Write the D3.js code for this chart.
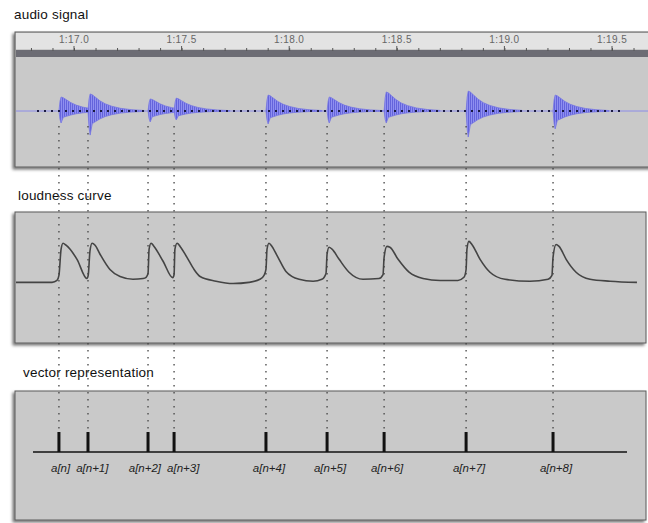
<!DOCTYPE html>
<html>
<head>
<meta charset="utf-8">
<script src="https://cdn.jsdelivr.net/npm/d3@7"></script>
<style>
  body { margin: 0; background: #fff; }
  text { font-family: "Liberation Sans", Arial, sans-serif; }
</style>
</head>
<body>
<div id="chart"></div>
<script>
// onset times in seconds (1:17.0 = 77 s)
const onsets = [76.930, 77.065, 77.344, 77.465, 77.892, 78.176, 78.441, 78.822, 79.226];
const onsetLabels = ["a[n]", "a[n+1]", "a[n+2]", "a[n+3]", "a[n+4]", "a[n+5]", "a[n+6]", "a[n+7]", "a[n+8]"];

// peak amplitude of each burst above / below the zero line (full scale = 1)
const burstUp = [0.50, 0.61, 0.43, 0.46, 0.57, 0.50, 0.68, 0.71, 0.57];
const burstDown = [0.43, 0.86, 0.39, 0.32, 0.46, 0.43, 0.43, 0.93, 0.64];

// decay envelope of a burst: time after onset (s) and relative level
const envOffsets = [0, 0.005, 0.01, 0.02, 0.035, 0.055, 0.08, 0.11, 0.15, 0.2, 0.26];
const envLevels = [0, 0.7, 1, 0.95, 0.8, 0.6, 0.42, 0.28, 0.16, 0.08, 0.03];

// ruler
const rulerMajor = [77, 77.5, 78, 78.5, 79, 79.5];
const rulerLabels = ["1:17.0", "1:17.5", "1:18.0", "1:18.5", "1:19.0", "1:19.5"];

// loudness curve: time (s) and level (peak = 1)
const loudTime = [76.726, 76.898, 76.921, 76.930, 76.940, 76.949, 76.963, 77.014, 77.060, 77.066,
  77.074, 77.084, 77.098, 77.121, 77.167, 77.214, 77.274, 77.321, 77.335, 77.344,
  77.349, 77.358, 77.372, 77.414, 77.459, 77.465, 77.469, 77.479, 77.493, 77.525,
  77.558, 77.586, 77.660, 77.739, 77.813, 77.864, 77.883, 77.892, 77.897, 77.906,
  77.920, 77.948, 77.985, 78.046, 78.111, 78.152, 78.171, 78.176, 78.185, 78.199,
  78.232, 78.278, 78.343, 78.417, 78.436, 78.441, 78.454, 78.468, 78.506, 78.557,
  78.622, 78.701, 78.784, 78.812, 78.822, 78.826, 78.835, 78.849, 78.887, 78.933,
  79.003, 79.119, 79.203, 79.221, 79.226, 79.240, 79.254, 79.287, 79.333, 79.398,
  79.491, 79.616];
const loudLevel = [0, 0, 0.05, 0.18, 0.85, 1.0, 0.95, 0.59, 0.10, 0.18,
  0.79, 1.0, 0.95, 0.72, 0.33, 0.15, 0.08, 0.10, 0.13, 0.23,
  0.85, 1.0, 0.92, 0.54, 0.12, 0.2, 0.85, 1.0, 0.92, 0.64,
  0.33, 0.15, 0.03, -0.03, 0, 0.08, 0.18, 0.33, 0.85, 1.0,
  0.92, 0.64, 0.28, 0.08, 0.03, 0.08, 0.23, 0.72, 0.9, 0.85,
  0.59, 0.26, 0.08, 0.10, 0.2, 0.64, 0.92, 0.9, 0.59, 0.26,
  0.10, 0.05, 0.05, 0.13, 0.33, 0.85, 1.05, 0.97, 0.59, 0.26,
  0.08, 0.03, 0.08, 0.18, 0.64, 0.97, 0.92, 0.59, 0.26, 0.08,
  0.03, 0];

// vector representation: one unit impulse per onset
const vectorValues = [1, 1, 1, 1, 1, 1, 1, 1, 1];

const W = 648, H = 523;
const svg = d3.select("#chart").append("svg")
  .attr("width", W).attr("height", H);

const defs = svg.append("defs");
const shadow = defs.append("filter").attr("id", "shadow")
  .attr("x", "-5%").attr("y", "-10%").attr("width", "110%").attr("height", "125%");
shadow.append("feDropShadow")
  .attr("dx", -2).attr("dy", 2).attr("stdDeviation", 1.8)
  .attr("flood-color", "#000").attr("flood-opacity", 0.55);

const stripes = defs.append("pattern").attr("id", "stripes")
  .attr("width", 2).attr("height", 4).attr("patternUnits", "userSpaceOnUse");
stripes.append("rect").attr("width", 2).attr("height", 4).attr("fill", "#8f8ff0");
stripes.append("rect").attr("width", 1).attr("height", 4).attr("fill", "#6464dc");

// shared time axis
const x = d3.scaleLinear().domain([77, 79.5]).range([74, 612]);

// panel frames
const panels = [
  { top: 32, bottom: 167, left: 15, right: 652 },
  { top: 212, bottom: 343, left: 15, right: 646 },
  { top: 391, bottom: 520, left: 15, right: 646 }
];
panels.forEach((p, i) => {
  svg.append("rect")
    .attr("x", p.left).attr("y", p.top)
    .attr("width", p.right - p.left).attr("height", p.bottom - p.top)
    .attr("fill", "#c9c9c9").attr("stroke", "#5a5a5a").attr("stroke-width", 1)
    .attr("filter", "url(#shadow)");
  svg.append("clipPath").attr("id", "clip" + i)
    .append("rect").attr("x", p.left + 1).attr("y", p.top + 1)
    .attr("width", p.right - p.left - 2).attr("height", p.bottom - p.top - 2);
});

// titles
const titleStyle = t => t.attr("font-size", 13.5).attr("letter-spacing", 0.2).attr("fill", "#111");
svg.append("text").attr("x", 14).attr("y", 19).call(titleStyle).text("audio signal");
svg.append("text").attr("x", 18).attr("y", 200).call(titleStyle).text("loudness curve");
svg.append("text").attr("x", 23).attr("y", 377).call(titleStyle).text("vector representation");

// ---- audio panel ----
const audio = svg.append("g").attr("clip-path", "url(#clip0)");
audio.append("rect").attr("x", 15).attr("y", 33).attr("width", 640).attr("height", 16).attr("fill", "#e3e3e3");
audio.append("rect").attr("x", 15).attr("y", 50).attr("width", 640).attr("height", 7).attr("fill", "#6c6c74");

const ruler = d3.axisBottom(x)
  .tickValues(d3.range(76.8, 79.75, 0.1))
  .tickSize(3).tickFormat("");
const rulerG = audio.append("g").attr("transform", "translate(0,48)").call(ruler);
rulerG.select(".domain").remove();
rulerG.selectAll(".tick line").attr("stroke", "#555");

audio.selectAll(".rlabel").data(rulerMajor).join("text")
  .attr("class", "rlabel")
  .attr("x", d => x(d)).attr("y", 43)
  .attr("text-anchor", "middle").attr("font-size", 10)
  .attr("letter-spacing", 0.4).attr("fill", "#666")
  .text((d, i) => rulerLabels[i]);
audio.selectAll(".major").data(rulerMajor).join("line")
  .attr("x1", d => x(d)).attr("x2", d => x(d))
  .attr("y1", 46).attr("y2", 51).attr("stroke", "#555");

const yAudio = d3.scaleLinear().domain([-1, 1]).range([139, 83]);

// zero line
audio.append("line")
  .attr("x1", 15).attr("x2", 655)
  .attr("y1", yAudio(0)).attr("y2", yAudio(0))
  .attr("stroke", "#8c8ce8").attr("stroke-width", 1);

const burstArea = d3.area()
  .x(d => x(d.t))
  .y0(d => yAudio(-d.lo))
  .y1(d => yAudio(d.hi));

onsets.forEach((t0, i) => {
  const pts = envOffsets.map((o, k) => ({
    t: t0 + o,
    hi: burstUp[i] * envLevels[k],
    lo: burstDown[i] * envLevels[k] * (k < 3 ? 1 : 0.55)
  }));
  audio.append("path").datum(pts)
    .attr("d", burstArea)
    .attr("fill", "url(#stripes)")
    .attr("stroke", "#7676e2").attr("stroke-width", 0.8);
});

// dotted marker line along zero
audio.append("line")
  .attr("x1", 37).attr("x2", 620)
  .attr("y1", yAudio(0)).attr("y2", yAudio(0))
  .attr("stroke", "#1a1a40").attr("stroke-width", 2)
  .attr("stroke-dasharray", "2,5");

// ---- loudness panel ----
const yLoud = d3.scaleLinear().domain([-1.55, 1.8]).range([343, 212]);
const loudData = loudTime.map((t, i) => ({ t: t, v: loudLevel[i] }));
svg.append("g").attr("clip-path", "url(#clip1)")
  .append("path").datum(loudData)
  .attr("d", d3.line().x(d => x(d.t)).y(d => yLoud(d.v)).curve(d3.curveMonotoneX))
  .attr("fill", "none").attr("stroke", "#444").attr("stroke-width", 1.6);

// ---- vector panel ----
const yVec = d3.scaleLinear().domain([0, 1]).range([452, 432]);
svg.append("line")
  .attr("x1", 33).attr("x2", 627)
  .attr("y1", yVec(0)).attr("y2", yVec(0))
  .attr("stroke", "#111").attr("stroke-width", 1.5);
svg.selectAll(".stem").data(vectorValues).join("line")
  .attr("class", "stem")
  .attr("x1", (d, i) => x(onsets[i])).attr("x2", (d, i) => x(onsets[i]))
  .attr("y1", yVec(0)).attr("y2", d => yVec(d))
  .attr("stroke", "#111").attr("stroke-width", 3);

// labels under the stems, pushed apart where they would collide
const labels = svg.selectAll(".vlabel").data(onsetLabels).join("text")
  .attr("class", "vlabel")
  .attr("y", 472).attr("font-size", 11.5).attr("font-style", "italic")
  .attr("fill", "#222").attr("text-anchor", "middle")
  .text(d => d);
const lay = [];
labels.each(function (d, i) {
  lay.push({ c: x(onsets[i]) + 3, w: this.getComputedTextLength() });
});
for (let pass = 0; pass < 4; pass++) {
  for (let i = 0; i < lay.length - 1; i++) {
    const a = lay[i], b = lay[i + 1];
    const overlap = (a.c + a.w / 2 + 6) - (b.c - b.w / 2);
    if (overlap > 0) { a.c -= overlap / 2; b.c += overlap / 2; }
  }
}
labels.attr("x", (d, i) => lay[i].c);

// dotted guides from each onset down to its impulse
svg.selectAll(".guide").data(onsets).join("line")
  .attr("class", "guide")
  .attr("x1", d => x(d)).attr("x2", d => x(d))
  .attr("y1", 126).attr("y2", yVec(1) - 1)
  .attr("stroke", "#444").attr("stroke-width", 1.3)
  .attr("stroke-dasharray", "1.5,5.5");
</script>
</body>
</html>
